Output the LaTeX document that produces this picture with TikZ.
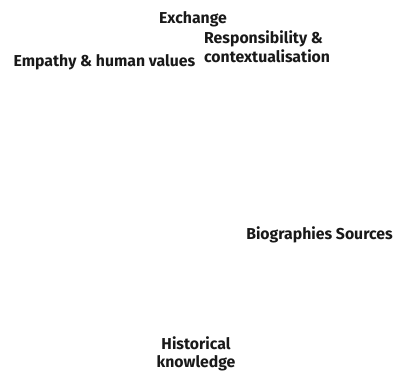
\documentclass[tikz,border=0pt]{standalone}
\usepackage{fontspec}
\setmainfont{Fira Sans}
\begin{document}
\begin{tikzpicture}[x=1pt,y=-1pt,
  lbl/.style={font=\bfseries\fontsize{15.8}{18.5}\selectfont, inner sep=0pt, text=black!90}]
\useasboundingbox (0,0) rectangle (395,371);
\node[lbl] (exchange) at (193,19) {Exchange};
\node[lbl, align=left, anchor=west] (resp) at (204,46.5) {Responsibility \&\\contextualisation};
\node[lbl] (empathy) at (104.5,62) {Empathy \& human values};
\node[lbl] (bio) at (319.5,235) {Biographies Sources};
\node[lbl, align=center] (hist) at (196,354) {Historical\\knowledge};
\end{tikzpicture}
\end{document}
